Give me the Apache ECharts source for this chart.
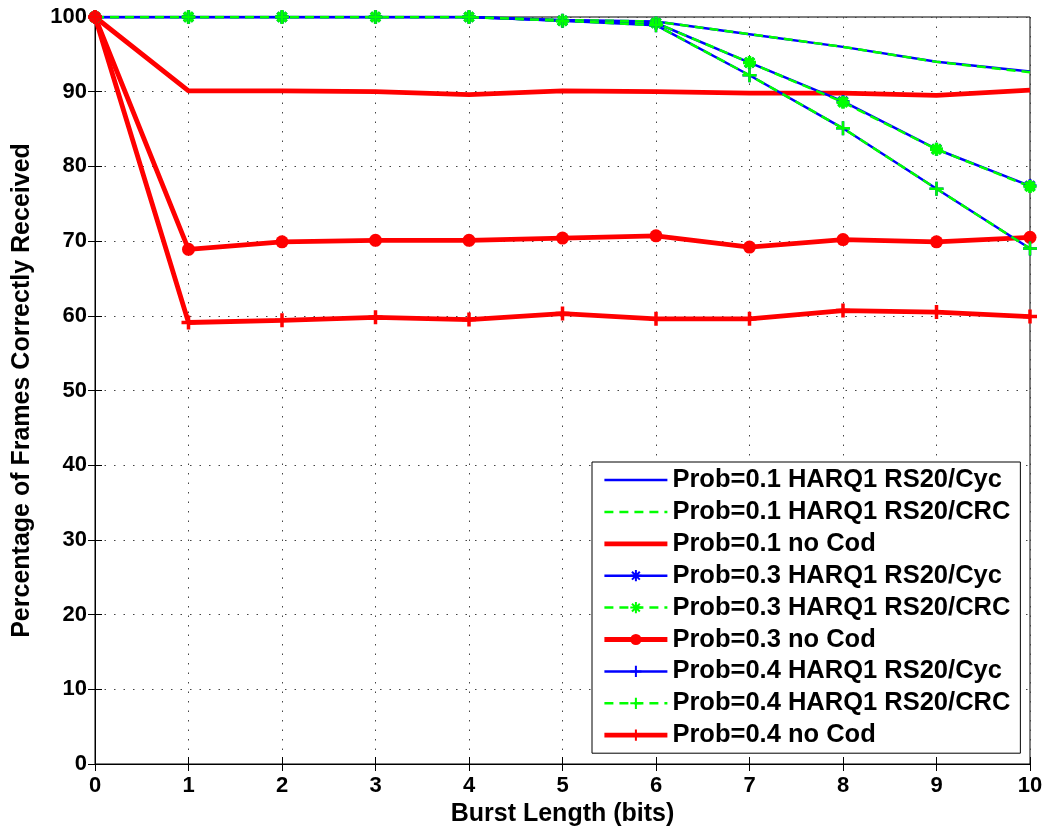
<!DOCTYPE html>
<html>
<head>
<meta charset="utf-8">
<script src="https://cdn.jsdelivr.net/npm/echarts@6/dist/echarts.min.js"></script>
<style>html,body{margin:0;padding:0;background:#fff}#c{width:1048px;height:829px}</style>
</head>
<body>
<div id="c"></div>
<script>
var burst = [0,1,2,3,4,5,6,7,8,9,10];
var p1Cyc = [100,100,100,100,100,99.6,99.4,97.7,96.0,94.0,92.7];
var p1Crc = [100,100,100,100,100,99.6,99.4,97.7,96.0,94.0,92.6];
var p1No  = [100,90.1,90.1,90.0,89.6,90.1,90.0,89.8,89.8,89.5,90.2];
var p3Cyc = [100,100,100,100,100,99.5,99.2,93.9,88.7,82.3,77.4];
var p3Crc = [100,100,100,100,100,99.5,99.2,93.9,88.6,82.3,77.3];
var p3No  = [100,68.9,69.9,70.1,70.1,70.4,70.7,69.2,70.2,69.9,70.5];
var p4Cyc = [100,100,100,100,100,99.5,98.9,92.2,85.1,77.0,69.0];
var p4Crc = [100,100,100,100,100,99.5,98.9,92.2,85.1,77.0,69.0];
var p4No  = [100,59.1,59.4,59.8,59.5,60.3,59.6,59.6,60.7,60.5,59.9];
var names = ['Prob=0.1 HARQ1 RS20/Cyc','Prob=0.1 HARQ1 RS20/CRC','Prob=0.1 no Cod',
             'Prob=0.3 HARQ1 RS20/Cyc','Prob=0.3 HARQ1 RS20/CRC','Prob=0.3 no Cod',
             'Prob=0.4 HARQ1 RS20/Cyc','Prob=0.4 HARQ1 RS20/CRC','Prob=0.4 no Cod'];
var yTicks = [0,10,20,30,40,50,60,70,80,90,100];

var BLUE='#0000ff', GREEN='#00ff00', RED='#ff0000';
var STAR='path://M0,-1L0,1M-1,0L1,0M-0.7,-0.7L0.7,0.7M-0.7,0.7L0.7,-0.7';
var PLUS='path://M0,-1L0,1M-1,0L1,0';
var FONT='"Liberation Sans", Arial, sans-serif';

function pts(arr){ return arr.map(function(v,i){ return [burst[i], v]; }); }
function mk(name, data, color, width, dashed, symbol, size, bw){
  var s = {
    name: name, type: 'line', data: pts(data), animation: false,
    lineStyle: {color: color, width: width, type: dashed ? [9,6] : 'solid'},
    itemStyle: symbol ? {color: color, borderColor: color, borderWidth: bw || 0}
                      : {color: 'rgba(0,0,0,0)', borderColor: 'rgba(0,0,0,0)', borderWidth: 0},
    symbol: symbol || 'circle', symbolSize: size || 1, showSymbol: !!symbol,
    emphasis: {disabled: true}, z: 2
  };
  return s;
}
var widths = [2.5,2.5,4.8,2.5,2.5,4.8,2.5,2.5,4.8];
var series = [
  mk(names[0], p1Cyc, BLUE, widths[0], false),
  mk(names[1], p1Crc, GREEN, widths[1], true),
  mk(names[2], p1No, RED, widths[2], false),
  mk(names[3], p3Cyc, BLUE, widths[3], false, STAR, 13, 3),
  mk(names[4], p3Crc, GREEN, widths[4], true, STAR, 13, 3.5),
  mk(names[5], p3No, RED, widths[5], false, 'circle', 13, 0),
  mk(names[6], p4Cyc, BLUE, widths[6], false, PLUS, 14, 2.5),
  mk(names[7], p4Crc, GREEN, widths[7], true, PLUS, 14, 2.5),
  mk(names[8], p4No, RED, widths[8], false, PLUS, 14, 3.5)
];

var axLabel = {fontFamily: FONT, fontWeight: 'bold', fontSize: 22, color: '#000'};
var titleStyle = {fontFamily: FONT, fontWeight: 'bold', fontSize: 25, color: '#000'};
var gridLine = {show: true, lineStyle: {color: '#444', width: 1, type: [1.5, 8]}};
var option = {
  backgroundColor: '#fff',
  animation: false,
  grid: {left: 95, right: 18, top: 17, bottom: 65, show: true, borderColor: '#000', borderWidth: 1,
         backgroundColor: 'transparent', outerBoundsMode: 'none', containLabel: false},
  xAxis: [{
    type: 'value', min: 0, max: 10, interval: 1, position: 'bottom',
    name: 'Burst Length (bits)', nameLocation: 'middle', nameGap: 35,
    nameTextStyle: titleStyle,
    axisLine: {show: true, lineStyle: {color: '#000', width: 1}},
    axisTick: {show: true, inside: true, length: 7, lineStyle: {color: '#000'}},
    axisLabel: Object.assign({margin: 11}, axLabel),
    splitLine: gridLine
  },{
    type: 'value', min: 0, max: 10, interval: 1, position: 'top',
    axisLine: {show: true, lineStyle: {color: '#000', width: 1}},
    axisTick: {show: true, inside: true, length: 7, lineStyle: {color: '#000'}},
    axisLabel: {show: false}, splitLine: {show: false}
  }],
  yAxis: [{
    type: 'value', min: 0, max: 100, interval: 10, position: 'left',
    name: 'Percentage of Frames Correctly Received', nameLocation: 'middle', nameGap: 60,
    nameTextStyle: titleStyle,
    axisLine: {show: true, lineStyle: {color: '#000', width: 1}},
    axisTick: {show: true, inside: true, length: 7, lineStyle: {color: '#000'}},
    axisLabel: Object.assign({margin: 8, formatter: function(v){ return yTicks.indexOf(v) >= 0 ? String(v) : ''; }}, axLabel),
    splitLine: gridLine
  },{
    type: 'value', min: 0, max: 100, interval: 10, position: 'right',
    axisLine: {show: true, lineStyle: {color: '#000', width: 1}},
    axisTick: {show: true, inside: true, length: 7, lineStyle: {color: '#000'}},
    axisLabel: {show: false}, splitLine: {show: false}
  }],
  legend: {
    show: true, orient: 'vertical', left: 592, top: 462,
    backgroundColor: '#fff', borderColor: '#000', borderWidth: 1,
    padding: [5, 10, 5, 10], itemGap: 5.9, itemWidth: 63, itemHeight: 14,
    textStyle: {fontFamily: FONT, fontWeight: 'bold', fontSize: 25.5, color: '#000', lineHeight: 26},
    data: names.map(function(n, i){ return {name: n, lineStyle: {width: widths[i]}}; }),
    selectedMode: false
  },
  series: series
};
var chart = echarts.init(document.getElementById('c'), null, {renderer: 'canvas'});
chart.setOption(option);
</script>
</body>
</html>
